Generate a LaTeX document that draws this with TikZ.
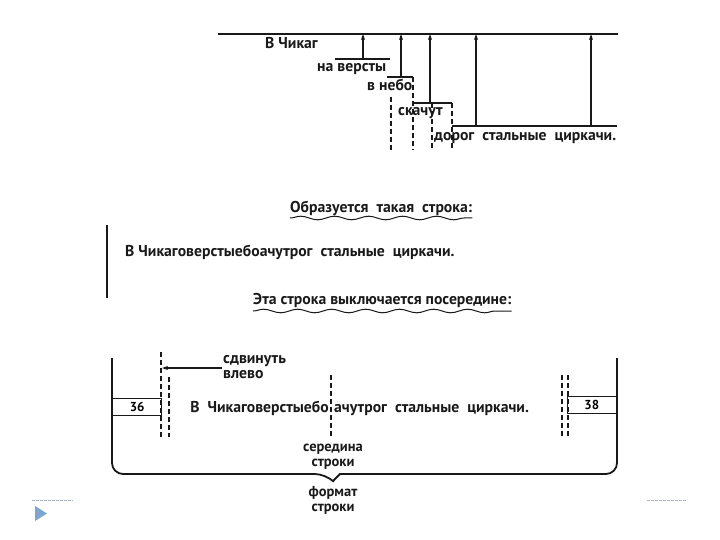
\documentclass[tikz,border=0pt]{standalone}
\usepackage{fontspec}
\setmainfont{PT Sans}
\usepackage{tikz}
\usetikzlibrary{arrows.meta,positioning,decorations.pathmorphing}
\definecolor{inkgray}{RGB}{25,25,25}
\definecolor{slideblue}{RGB}{125,165,205}
\definecolor{rulegray}{RGB}{170,180,195}
\tikzset{
    ln/.style={draw=inkgray, line width=1.4pt},
    arr/.style={-{Stealth[length=6pt,width=4pt]}, line width=1.1pt, draw=inkgray},
    dsh/.style={draw=inkgray, line width=1.1pt, dash pattern=on 5pt off 3pt},
    lbl/.style={font=\bfseries\fontsize{15.7}{17}\selectfont, inner sep=0pt, text=inkgray},
    sublbl/.style={font=\bfseries\fontsize{14.5}{15}\selectfont, inner sep=0pt, text=inkgray},
    wav/.style={draw=inkgray, line width=1pt,
                decorate, decoration={snake, amplitude=1.8pt, segment length=34pt}},
    numbox/.style={rectangle, draw=inkgray, line width=1.3pt, minimum width=49pt,
                   minimum height=17pt, inner sep=0pt,
                   font=\bfseries\fontsize{13}{14}\selectfont},
}
\begin{document}
\begin{tikzpicture}[x=1pt, y=-1pt]
    \useasboundingbox (0,0) rectangle (720,540);
    % top: pieces of the line
    \coordinate (topL) at (218,34);
    \coordinate (topR) at (618,34);
    \draw[line width=1.8pt, inkgray] (topL) -- (topR);
    \node[lbl, anchor=base west] (w0) at (265,49) {В Чикаг};
    \node[lbl, anchor=base west] (w1) at (317,72) {на версты};
    \node[lbl, anchor=base west] (w2) at (367,91) {в небо};
    \node[lbl, anchor=base west] (w3) at (398,116) {скачут};
    \node[lbl, anchor=base west] (w4) at (434,141) {дорог\ \ стальные\ \ циркачи.};
    \draw[ln] (335,59) coordinate (s1a) -- (390,59) coordinate (s1b);
    \draw[ln] (387,77) coordinate (s2a) -- (413,77) coordinate (s2b);
    \draw[ln] (413,103) coordinate (s3a) -- (452,103) coordinate (s3b);
    \draw[ln] (452,126) coordinate (s4a) -- (617,126) coordinate (s4b);
    \coordinate (u1) at (363,59);  \coordinate (v1) at (363,34);
    \coordinate (u2) at (401,77);  \coordinate (v2) at (401,34);
    \coordinate (u3) at (430,103); \coordinate (v3) at (430,34);
    \coordinate (u4) at (476,126); \coordinate (v4) at (476,34);
    \coordinate (u5) at (591,126); \coordinate (v5) at (591,34);
    \draw[arr] (u1) -- (v1);
    \draw[arr] (u2) -- (v2);
    \draw[arr] (u3) -- (v3);
    \draw[arr] (u4) -- (v4);
    \draw[arr] (u5) -- (v5);
    \draw[dsh] (391,97) -- (391,150);
    \draw[dsh] (413,77) -- (413,150);
    \draw[dsh] (432,103) -- (432,150);
    \draw[dsh] (452,103) -- (452,150);

    % middle: the joined line
    \node[lbl, anchor=base west] (h1) at (290,212) {Образуется\ \ такая\ \ строка:};
    \draw[wav] ([yshift=-6pt]h1.base west) -- ([yshift=-6pt]h1.base east);
    \draw[ln] (107,225) -- (107,298);
    \node[lbl, anchor=base west] (joined) at (125,256) {В Чикаговерстыебоачутрог\ \ стальные\ \ циркачи.};
    \node[lbl, anchor=base west] (h2) at (253,304) {Эта\ строка\ выключается\ посередине:};
    \draw[wav] ([yshift=-7pt]h2.base west) -- ([yshift=-7pt]h2.base east);

    % bottom: the centred line
    \node[numbox, anchor=north west] (b36) at (112,398) {36};
    \node[numbox, anchor=north east] (b38) at (617,396) {38};
    \draw[dsh] (161,352) -- (161,437);
    \draw[dsh] (169,377) -- (169,437);
    \draw[dsh] (562,375) -- (562,437);
    \draw[dsh] (568,375) -- (568,437);
    \draw[dsh] (331,375) coordinate (mid) -- (331,437) coordinate (midB);
    \node[lbl, anchor=base west] (sh1) at (223,363) {сдвинуть};
    \node[lbl, anchor=base west] (sh2) at (223,378) {влево};
    \coordinate (shA) at (222,368);
    \coordinate (shB) at (162,368);
    \draw[arr] (shA) -- (shB);
    \node[lbl, anchor=base east] (m1) at (329,412) {В\ \ Чикаговерстыебо};
    \node[lbl, anchor=base west] (m2) at (334,412) {ачутрог\ \ стальные\ \ циркачи.};
    \node[sublbl, anchor=base] (midlbl1) at (333,451) {середина};
    \node[sublbl, below=4.5pt of midlbl1] (midlbl2) {строки};
    \draw[line width=1.8pt, inkgray, rounded corners=11pt]
        (112,358) -- (112,474) -- (326,474) [sharp corners] -- (333,481) -- (340,474)
        [rounded corners=11pt] -- (617,474) -- (617,358);
    \coordinate (tip) at (333,481);
    \node[sublbl, anchor=base] (fmt1) at (333,496) {формат};
    \node[sublbl, below=4.5pt of fmt1] (fmt2) {строки};

    % slide marks
    \draw[rulegray, line width=0.6pt, dash pattern=on 3pt off 1pt] (32,500) -- (73,500);
    \draw[rulegray, line width=0.6pt, dash pattern=on 3pt off 1pt] (647,500) -- (687,500);
    \fill[slideblue] (35,506) -- (47,513.5) -- (35,521) -- cycle;
\end{tikzpicture}
\end{document}
